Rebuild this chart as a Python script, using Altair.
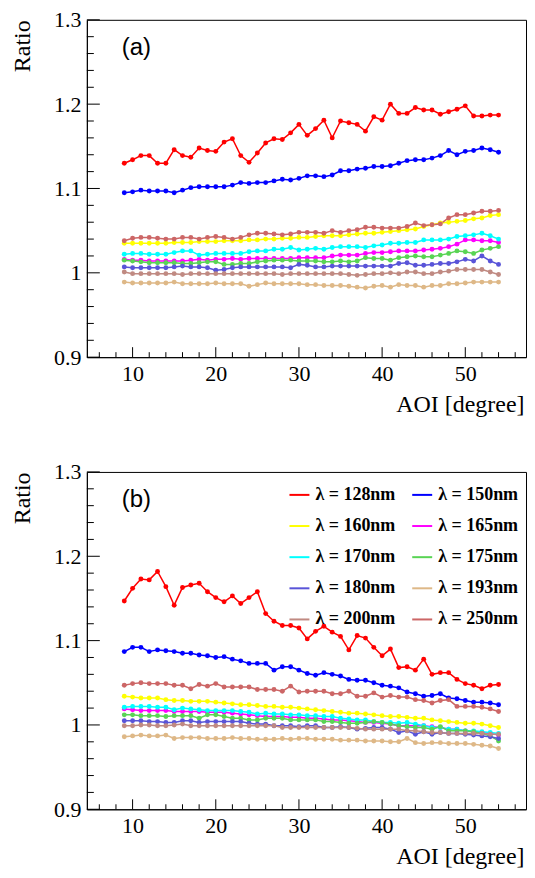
import altair as alt
import pandas as pd

# ---------------- data ----------------
aoi = list(range(9, 55))  # AOI in degrees

series = ["λ = 128nm", "λ = 150nm", "λ = 160nm", "λ = 165nm", "λ = 170nm",
          "λ = 175nm", "λ = 180nm", "λ = 193nm", "λ = 200nm", "λ = 250nm"]
colors = ["#ff0000", "#0000ff", "#ffff00", "#ff00ff", "#00ffff",
          "#59d454", "#5954d8", "#deb887", "#c08a82", "#cc6666"]
# legend is filled column by column: left column then right column
legend_order = [0, 2, 4, 6, 8, 1, 3, 5, 7, 9]

# panel (a)
a_128 = [1.130, 1.134, 1.139, 1.139, 1.130, 1.130, 1.146, 1.139, 1.137, 1.148, 1.145, 1.144, 1.155, 1.159, 1.139, 1.131,
         1.142, 1.154, 1.159, 1.158, 1.166, 1.176, 1.163, 1.171, 1.181, 1.160, 1.180, 1.178, 1.176, 1.168, 1.185, 1.181,
         1.200, 1.189, 1.189, 1.196, 1.193, 1.193, 1.188, 1.191, 1.194, 1.198, 1.186, 1.186, 1.187, 1.187]
a_150 = [1.095, 1.096, 1.098, 1.097, 1.097, 1.097, 1.095, 1.098, 1.101, 1.102, 1.102, 1.102, 1.102, 1.104, 1.107, 1.106,
         1.107, 1.107, 1.109, 1.111, 1.110, 1.112, 1.115, 1.115, 1.114, 1.116, 1.121, 1.121, 1.123, 1.124, 1.126, 1.126,
         1.127, 1.130, 1.133, 1.134, 1.134, 1.136, 1.139, 1.145, 1.140, 1.144, 1.145, 1.148, 1.146, 1.143]
a_160 = [1.035, 1.035, 1.035, 1.035, 1.035, 1.035, 1.036, 1.036, 1.036, 1.037, 1.037, 1.037, 1.038, 1.038, 1.038, 1.039,
         1.039, 1.040, 1.040, 1.041, 1.041, 1.042, 1.042, 1.043, 1.044, 1.044, 1.044, 1.045, 1.046, 1.047, 1.047, 1.048,
         1.049, 1.050, 1.051, 1.052, 1.055, 1.057, 1.059, 1.060, 1.061, 1.062, 1.064, 1.065, 1.068, 1.069]
a_165 = [1.016, 1.015, 1.015, 1.014, 1.014, 1.014, 1.014, 1.014, 1.015, 1.016, 1.015, 1.016, 1.016, 1.017, 1.016, 1.017,
         1.017, 1.017, 1.017, 1.017, 1.017, 1.018, 1.018, 1.018, 1.018, 1.020, 1.021, 1.021, 1.021, 1.023, 1.024, 1.024,
         1.025, 1.026, 1.026, 1.026, 1.027, 1.028, 1.029, 1.031, 1.034, 1.039, 1.039, 1.038, 1.038, 1.036]
a_170 = [1.022, 1.023, 1.023, 1.022, 1.022, 1.022, 1.024, 1.026, 1.026, 1.021, 1.022, 1.023, 1.023, 1.023, 1.023, 1.025,
         1.026, 1.026, 1.028, 1.028, 1.030, 1.027, 1.028, 1.029, 1.028, 1.030, 1.031, 1.031, 1.031, 1.030, 1.032, 1.033,
         1.035, 1.035, 1.036, 1.036, 1.039, 1.039, 1.039, 1.040, 1.043, 1.044, 1.045, 1.047, 1.044, 1.040]
a_175 = [1.015, 1.014, 1.013, 1.012, 1.012, 1.012, 1.012, 1.011, 1.011, 1.012, 1.013, 1.013, 1.010, 1.010, 1.011, 1.011,
         1.013, 1.014, 1.015, 1.015, 1.015, 1.014, 1.014, 1.014, 1.013, 1.013, 1.014, 1.013, 1.014, 1.018, 1.017, 1.017,
         1.015, 1.018, 1.019, 1.020, 1.019, 1.019, 1.021, 1.023, 1.026, 1.025, 1.023, 1.027, 1.029, 1.031]
a_180 = [1.007, 1.006, 1.006, 1.006, 1.006, 1.006, 1.007, 1.008, 1.007, 1.007, 1.006, 1.003, 1.004, 1.006, 1.007, 1.007,
         1.007, 1.007, 1.007, 1.007, 1.006, 1.010, 1.009, 1.007, 1.007, 1.008, 1.008, 1.008, 1.008, 1.008, 1.008, 1.008,
         1.008, 1.011, 1.012, 1.009, 1.009, 1.010, 1.011, 1.011, 1.013, 1.016, 1.014, 1.020, 1.014, 1.010]
a_193 = [0.989, 0.988, 0.988, 0.988, 0.988, 0.988, 0.989, 0.987, 0.987, 0.987, 0.987, 0.988, 0.987, 0.987, 0.987, 0.984,
         0.986, 0.988, 0.987, 0.987, 0.987, 0.987, 0.986, 0.986, 0.985, 0.985, 0.985, 0.984, 0.983, 0.982, 0.984, 0.985,
         0.983, 0.986, 0.985, 0.985, 0.983, 0.985, 0.985, 0.987, 0.987, 0.988, 0.989, 0.989, 0.989, 0.989]
a_200 = [1.001, 0.999, 0.999, 0.999, 0.999, 0.999, 0.999, 0.998, 0.999, 0.999, 0.999, 0.999, 0.999, 0.999, 0.999, 0.999,
         0.999, 0.999, 0.999, 0.998, 0.999, 0.999, 0.999, 0.999, 0.999, 0.999, 0.999, 0.998, 0.997, 0.998, 0.999, 0.999,
         1.000, 0.999, 1.001, 1.001, 0.999, 0.999, 1.001, 1.002, 1.004, 1.004, 1.004, 1.004, 1.001, 0.998]
a_250 = [1.038, 1.041, 1.042, 1.042, 1.041, 1.040, 1.040, 1.042, 1.042, 1.040, 1.042, 1.043, 1.042, 1.040, 1.042, 1.045,
         1.047, 1.047, 1.046, 1.045, 1.046, 1.048, 1.048, 1.048, 1.047, 1.050, 1.048, 1.050, 1.051, 1.054, 1.054, 1.053,
         1.053, 1.053, 1.055, 1.059, 1.056, 1.057, 1.058, 1.065, 1.069, 1.069, 1.071, 1.073, 1.073, 1.074]

# panel (b)
b_128 = [1.147, 1.162, 1.173, 1.172, 1.182, 1.164, 1.142, 1.163, 1.166, 1.168, 1.158, 1.151, 1.146, 1.153, 1.144, 1.151,
         1.158, 1.132, 1.123, 1.118, 1.118, 1.115, 1.102, 1.111, 1.117, 1.110, 1.105, 1.089, 1.106, 1.103, 1.092, 1.082,
         1.090, 1.068, 1.069, 1.065, 1.078, 1.060, 1.062, 1.062, 1.054, 1.049, 1.047, 1.043, 1.047, 1.048]
b_150 = [1.087, 1.092, 1.092, 1.087, 1.089, 1.088, 1.087, 1.085, 1.085, 1.083, 1.082, 1.080, 1.081, 1.078, 1.076, 1.073,
         1.073, 1.073, 1.065, 1.069, 1.069, 1.065, 1.061, 1.059, 1.062, 1.060, 1.058, 1.054, 1.053, 1.053, 1.050, 1.047,
         1.046, 1.044, 1.039, 1.037, 1.034, 1.035, 1.037, 1.032, 1.031, 1.029, 1.027, 1.027, 1.026, 1.024]
b_160 = [1.034, 1.033, 1.032, 1.032, 1.032, 1.030, 1.029, 1.029, 1.028, 1.028, 1.028, 1.027, 1.026, 1.025, 1.024, 1.024,
         1.023, 1.022, 1.022, 1.021, 1.021, 1.020, 1.019, 1.018, 1.017, 1.016, 1.015, 1.014, 1.014, 1.013, 1.012, 1.011,
         1.010, 1.010, 1.009, 1.008, 1.008, 1.006, 1.005, 1.004, 1.003, 1.002, 1.002, 1.001, 0.999, 0.997]
b_165 = [1.019, 1.018, 1.017, 1.017, 1.017, 1.017, 1.016, 1.016, 1.016, 1.016, 1.015, 1.015, 1.015, 1.014, 1.013, 1.012,
         1.011, 1.010, 1.010, 1.010, 1.009, 1.009, 1.008, 1.008, 1.007, 1.006, 1.006, 1.005, 1.004, 1.003, 1.003, 1.002,
         1.001, 0.999, 0.999, 0.999, 0.999, 0.998, 0.997, 0.995, 0.995, 0.993, 0.992, 0.991, 0.990, 0.988]
b_170 = [1.021, 1.022, 1.022, 1.022, 1.021, 1.021, 1.018, 1.020, 1.019, 1.018, 1.017, 1.017, 1.017, 1.017, 1.016, 1.015,
         1.013, 1.014, 1.013, 1.013, 1.012, 1.012, 1.011, 1.011, 1.010, 1.010, 1.008, 1.007, 1.006, 1.006, 1.004, 1.003,
         1.003, 1.002, 1.003, 1.001, 0.999, 0.997, 0.997, 0.995, 0.995, 0.993, 0.993, 0.992, 0.991, 0.990]
b_175 = [1.012, 1.012, 1.011, 1.011, 1.011, 1.010, 1.011, 1.011, 1.011, 1.008, 1.012, 1.012, 1.010, 1.008, 1.008, 1.006,
         1.006, 1.008, 1.008, 1.008, 1.006, 1.006, 1.006, 1.006, 1.004, 1.004, 1.003, 1.002, 1.002, 1.003, 1.004, 1.003,
         1.001, 0.999, 0.998, 0.997, 0.997, 0.995, 0.998, 0.993, 0.993, 0.993, 0.992, 0.990, 0.987, 0.981]
b_180 = [1.005, 1.005, 1.005, 1.004, 1.004, 1.003, 1.003, 1.005, 1.005, 1.003, 1.004, 1.004, 1.004, 1.004, 1.004, 1.002,
         1.001, 1.001, 0.999, 0.999, 0.999, 0.998, 0.999, 0.999, 0.997, 0.997, 0.998, 0.997, 0.995, 0.996, 0.997, 0.997,
         0.995, 0.991, 0.993, 0.989, 0.992, 0.989, 0.991, 0.990, 0.990, 0.989, 0.988, 0.987, 0.986, 0.984]
b_193 = [0.986, 0.987, 0.988, 0.987, 0.987, 0.988, 0.984, 0.985, 0.985, 0.985, 0.984, 0.984, 0.984, 0.985, 0.984, 0.984,
         0.983, 0.983, 0.983, 0.984, 0.983, 0.984, 0.984, 0.983, 0.983, 0.983, 0.982, 0.982, 0.982, 0.981, 0.981, 0.981,
         0.980, 0.980, 0.984, 0.979, 0.978, 0.979, 0.979, 0.978, 0.978, 0.978, 0.977, 0.976, 0.975, 0.972]
b_200 = [0.999, 0.999, 1.000, 1.000, 0.999, 0.999, 1.000, 1.001, 0.999, 0.999, 0.999, 0.999, 0.999, 0.999, 0.999, 0.999,
         0.999, 0.999, 0.999, 0.997, 0.997, 0.997, 0.997, 0.997, 0.997, 0.997, 0.997, 0.997, 0.996, 0.995, 0.995, 0.995,
         0.995, 0.995, 0.993, 0.993, 0.992, 0.991, 0.991, 0.990, 0.990, 0.990, 0.990, 0.990, 0.989, 0.989]
b_250 = [1.047, 1.049, 1.050, 1.049, 1.049, 1.049, 1.047, 1.047, 1.043, 1.048, 1.046, 1.049, 1.045, 1.045, 1.045, 1.045,
         1.042, 1.042, 1.042, 1.040, 1.046, 1.039, 1.040, 1.040, 1.040, 1.037, 1.037, 1.040, 1.034, 1.034, 1.038, 1.033,
         1.035, 1.033, 1.033, 1.030, 1.029, 1.026, 1.029, 1.030, 1.022, 1.022, 1.022, 1.021, 1.019, 1.016]

panel_a = [a_128, a_150, a_160, a_165, a_170, a_175, a_180, a_193, a_200, a_250]
panel_b = [b_128, b_150, b_160, b_165, b_170, b_175, b_180, b_193, b_200, b_250]

x_major = [10, 20, 30, 40, 50]
x_minor = [6, 8, 12, 14, 16, 18, 22, 24, 26, 28, 32, 34, 36, 38, 42, 44, 46, 48, 52, 54, 56]
y_major = [0.9, 1.0, 1.1, 1.2, 1.3]
y_minor = [0.92, 0.94, 0.96, 0.98, 1.02, 1.04, 1.06, 1.08, 1.12, 1.14, 1.16, 1.18, 1.22, 1.24, 1.26, 1.28]

W, H = 440, 338
X_DOMAIN = [4.5, 57.3]
Y_DOMAIN = [0.9, 1.3]


def to_frame(values):
    rows = []
    for name, vals in zip(series, values):
        assert len(vals) == len(aoi), (name, len(vals))
        for a, v in zip(aoi, vals):
            rows.append({"aoi": a, "ratio": v, "series": name})
    return pd.DataFrame(rows)


def panel(values, tag, legend):
    df = to_frame(values)
    xs = alt.Scale(domain=X_DOMAIN, nice=False, zero=False)
    ys = alt.Scale(domain=Y_DOMAIN, nice=False, zero=False)
    x_axis = alt.Axis(values=x_major, title="AOI [degree]", titleFontSize=24, titleFontWeight="normal",
                      titleAnchor="end", titleAlign="right", titleBaseline="alphabetic",
                      titleX=W - 2, titleY=54, labelFontSize=22, labelPadding=6, ticks=False, tickSize=0,
                      labelFlush=False, grid=False)
    y_axis = alt.Axis(values=y_major, title="Ratio", titleFontSize=24, titleFontWeight="normal",
                      titleAngle=270, titleAlign="right", titleBaseline="alphabetic",
                      titleX=-57, titleY=0, labelFontSize=22, labelPadding=6, ticks=False, tickSize=0,
                      labelFlush=False, grid=False,
                      labelExpr="datum.value == 1 ? '1' : format(datum.value, '.1f')")
    X = alt.X("aoi:Q", scale=xs, axis=x_axis)
    Y = alt.Y("ratio:Q", scale=ys, axis=y_axis)
    dom = [series[i] for i in legend_order]
    rng = [colors[i] for i in legend_order]
    cscale = alt.Scale(domain=dom, range=rng)
    lines = alt.Chart(df).mark_line(strokeWidth=1.5).encode(
        x=X, y=Y,
        color=alt.Color("series:N", scale=cscale, sort=dom, legend=legend),
        order="aoi:Q",
    )
    points = alt.Chart(df).mark_circle(size=24, opacity=1).encode(
        x="aoi:Q", y="ratio:Q",
        fill=alt.Fill("series:N", scale=cscale, sort=dom, legend=None),
    )
    xmaj = alt.Chart(pd.DataFrame({"aoi": x_major})).mark_rule(color="black", strokeWidth=1).encode(
        x="aoi:Q", y=alt.value(H), y2=alt.value(H - 10))
    xmin = alt.Chart(pd.DataFrame({"aoi": x_minor})).mark_rule(color="black", strokeWidth=1).encode(
        x="aoi:Q", y=alt.value(H), y2=alt.value(H - 5))
    ymaj = alt.Chart(pd.DataFrame({"ratio": y_major})).mark_rule(color="black", strokeWidth=1).encode(
        y="ratio:Q", x=alt.value(0), x2=alt.value(13))
    ymin = alt.Chart(pd.DataFrame({"ratio": y_minor})).mark_rule(color="black", strokeWidth=1).encode(
        y="ratio:Q", x=alt.value(0), x2=alt.value(7))
    label = alt.Chart(pd.DataFrame({"tag": [tag]})).mark_text(
        align="left", baseline="middle", font="Liberation Sans", fontSize=24, color="black"
    ).encode(x=alt.value(35), y=alt.value(28), text="tag:N")
    return alt.layer(lines, points, xmaj, xmin, ymaj, ymin, label).properties(width=W, height=H)


leg = alt.Legend(orient="none", legendX=202, legendY=12, columns=2, title=None,
                 symbolType="stroke", symbolSize=400, symbolStrokeWidth=2,
                 labelFont="Liberation Serif", labelFontSize=18, labelFontWeight="bold",
                 labelColor="black", labelOffset=5, rowPadding=11.2, columnPadding=12,
                 padding=0, labelLimit=200)

pa = panel(panel_a, "(a)", None)
pb = panel(panel_b, "(b)", leg)

chart = alt.vconcat(pa, pb, spacing=43).resolve_scale(
    color="independent", fill="independent"
).properties(
    padding={"left": 2, "top": -1, "right": 0, "bottom": 0},
).configure_view(
    stroke="black", strokeWidth=1
).configure_axis(
    domainColor="black", domainWidth=1, labelColor="black", titleColor="black",
    labelFont="Liberation Serif", titleFont="Liberation Serif"
)

chart.save("out.html", embed_options={"renderer": "svg", "actions": False})
